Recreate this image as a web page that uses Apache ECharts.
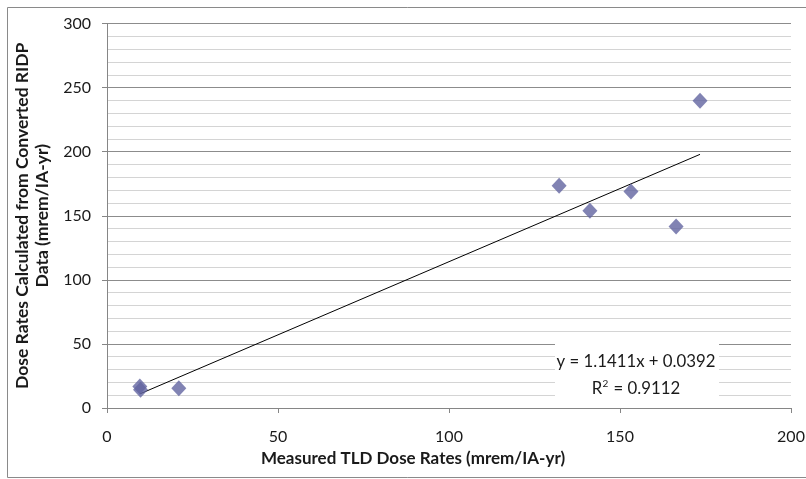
<!DOCTYPE html>
<html>
<head>
<meta charset="utf-8">
<script src="https://cdn.jsdelivr.net/npm/echarts@6/dist/echarts.min.js"></script>
<style>
  html, body { margin: 0; padding: 0; background: #fff; }
  #chart { width: 806px; height: 479px; }
</style>
</head>
<body>
<div id="chart"></div>
<script>
// measured TLD dose rates vs dose rates from converted RIDP data
const measuredTld = [9.6, 9.8, 21.0, 132.2, 141.2, 153.2, 166.4, 173.4];
const calculatedRidp = [16.8, 14.2, 15.4, 173.4, 153.9, 169.0, 141.6, 239.8];

// trendline as printed on the chart
const slope = 1.1411;
const intercept = 0.0392;
const r2 = 0.9112;

const xTicks = [0, 50, 100, 150, 200];
const yTicks = [0, 50, 100, 150, 200, 250, 300];

const chart = echarts.init(document.getElementById('chart'));

const points = measuredTld.map((x, i) => [x, calculatedRidp[i]]);
const xMin = Math.min(...measuredTld);
const xMax = Math.max(...measuredTld);
const trend = [
  [xMin, slope * xMin + intercept],
  [xMax, slope * xMax + intercept],
];

const font = 'Lato, "Open Sans", sans-serif';

const option = {
  animation: false,
  backgroundColor: '#fff',
  grid: {
    left: 107,
    right: 15,
    top: 23.5,
    bottom: 71,
    outerBoundsMode: 'none',
    containLabel: false,
  },
  xAxis: {
    type: 'value',
    min: xTicks[0],
    max: xTicks[xTicks.length - 1],
    interval: 50,
    axisLine: { show: true, onZero: false, lineStyle: { color: '#868686', width: 1 } },
    axisTick: { show: true, length: 5, lineStyle: { color: '#868686' } },
    axisLabel: {
      margin: 21,
      fontFamily: font,
      fontSize: 16,
      color: '#1a1a1a',
    },
    splitLine: { show: false },
    name: 'Measured TLD Dose Rates (mrem/IA-yr)',
    nameLocation: 'middle',
    nameGap: 41,
    nameTextStyle: {
      fontFamily: font,
      fontSize: 17,
      fontWeight: 'bold',
      color: '#1a1a1a',
      padding: [0, 72, 0, 0],
    },
  },
  yAxis: {
    type: 'value',
    min: yTicks[0],
    max: yTicks[yTicks.length - 1],
    interval: 50,
    axisLine: { show: true, onZero: false, lineStyle: { color: '#868686', width: 1 } },
    axisTick: { show: true, length: 5, lineStyle: { color: '#868686' } },
    axisLabel: {
      margin: 16,
      fontFamily: font,
      fontSize: 16,
      color: '#1a1a1a',
    },
    splitLine: { show: true, lineStyle: { color: '#8c8c8c', width: 1 } },
    minorTick: { show: false, splitNumber: 5 },
    minorSplitLine: { show: true, lineStyle: { color: '#d4d4d4', width: 1 } },
    name: 'Dose Rates Calculated from Converted RIDP\nData (mrem/IA-yr)',
    nameLocation: 'middle',
    nameRotate: 90,
    nameGap: 51,
    nameTextStyle: {
      fontFamily: font,
      fontSize: 17.5,
      fontWeight: 'bold',
      color: '#1a1a1a',
      lineHeight: 20,
      align: 'center',
    },
  },
  graphic: [
    {
      type: 'rect',
      z: 100,
      shape: { x: 7.5, y: 7.5, width: 820, height: 470 },
      style: { fill: 'none', stroke: '#8a8a8a', lineWidth: 1 },
      silent: true,
    },
    {
      type: 'rect',
      z: 100,
      shape: { x: 555, y: 342, width: 164, height: 56 },
      style: { fill: '#fff' },
      silent: true,
    },
    {
      type: 'text',
      z: 101,
      x: 636,
      y: 362,
      style: {
        text: 'y = ' + slope.toFixed(4) + 'x + ' + intercept.toFixed(4),
        fontFamily: font,
        fontSize: 16.8,
        fill: '#1a1a1a',
        align: 'center',
        verticalAlign: 'middle',
      },
    },
    {
      type: 'text',
      z: 101,
      x: 636,
      y: 389,
      style: {
        text: '{r|R}{s|2}{r| = ' + r2.toFixed(4) + '}',
        align: 'center',
        verticalAlign: 'middle',
        rich: {
          r: { fontFamily: font, fontSize: 16.8, fill: '#1a1a1a', color: '#1a1a1a' },
          s: { fontFamily: font, fontSize: 10, fill: '#1a1a1a', color: '#1a1a1a', verticalAlign: 'top', padding: [0, 1, 10, 0] },
        },
      },
    },
  ],
  series: [
    {
      type: 'scatter',
      data: points,
      symbol: 'diamond',
      symbolSize: [15, 16],
      itemStyle: { color: '#6264a0' },
      z: 3,
    },
    {
      type: 'line',
      data: trend,
      symbol: 'none',
      lineStyle: { color: '#000', width: 1 },
      z: 2,
    },
  ],
};

chart.setOption(option);
</script>
</body>
</html>
